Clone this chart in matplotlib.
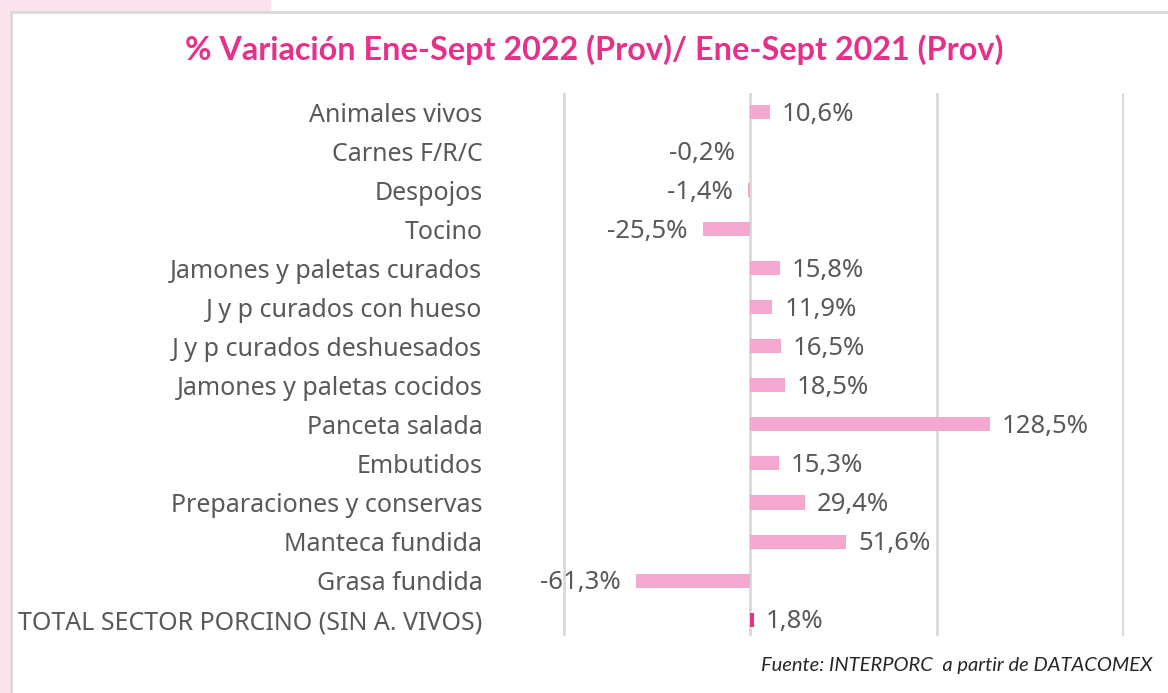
import matplotlib
matplotlib.use('Agg')

import matplotlib.pyplot as plt
from matplotlib.patches import Rectangle

categorias = ['Animales vivos', 'Carnes F/R/C', 'Despojos', 'Tocino',
              'Jamones y paletas curados', 'J y p curados con hueso',
              'J y p curados deshuesados', 'Jamones y paletas cocidos',
              'Panceta salada', 'Embutidos', 'Preparaciones y conservas',
              'Manteca fundida', 'Grasa fundida',
              'TOTAL SECTOR PORCINO (SIN A. VIVOS)']
variacion = [10.6, -0.2, -1.4, -25.5, 15.8, 11.9, 16.5, 18.5, 128.5,
             15.3, 29.4, 51.6, -61.3, 1.8]
ticks_x = [-100, 0, 100, 200]

gris = '#595959'
rosa = '#f4a7cf'
rosa_fuerte = '#e6308a'
plt.rcParams['font.family'] = ['Lato', 'DejaVu Sans']
fuente_ejes = ['Noto Sans', 'DejaVu Sans']

fig = plt.figure(figsize=(11.68, 6.93), dpi=100)
fig.patch.set_facecolor('white')

# fondo rosado y marco del grafico
fig.patches.append(Rectangle((0, 0), 10 / 1168, 1, transform=fig.transFigure,
                             color='#fbe3ee', zorder=-3))
fig.patches.append(Rectangle((0, 1 - 11 / 693), 270 / 1168, 11 / 693,
                             transform=fig.transFigure, color='#fbe3ee', zorder=-3))
fig.patches.append(Rectangle((11 / 1168, -0.05), 1.1, 1 - 12 / 693 + 0.05,
                             transform=fig.transFigure, facecolor='white',
                             edgecolor='#d9d9d9', linewidth=2, zorder=-2))

ax = fig.add_axes([563 / 1168, 1 - 636 / 693, 561 / 1168, 543 / 693])
ax.set_facecolor('none')
ax.set_zorder(2)

y = list(range(len(categorias)))
colores = [rosa] * (len(categorias) - 1) + [rosa_fuerte]
ax.barh(y, variacion, height=0.36, color=colores, zorder=3)

for yi, v in zip(y, variacion):
    txt = ('%.1f%%' % v).replace('.', ',')
    if v >= 0:
        ax.annotate(txt, (v, yi), xytext=(12, -2), textcoords='offset pixels',
                    ha='left', va='center', fontsize=18.5, color=gris,
                    family=fuente_ejes)
    else:
        ax.annotate(txt, (v, yi), xytext=(-15, -2), textcoords='offset pixels',
                    ha='right', va='center', fontsize=18.5, color=gris,
                    family=fuente_ejes)

ax.set_xlim(-100.4, 200.4)
ax.set_ylim(13.42, -0.49)
ax.set_xticks(ticks_x)
ax.set_xticklabels([])
ax.set_yticks(y)
ax.set_yticklabels(categorias, fontsize=18, color=gris, family=fuente_ejes)
ax.tick_params(axis='y', length=0, pad=58)
ax.tick_params(axis='x', length=0)
ax.grid(axis='x', color='#d9d9d9', linewidth=2, zorder=0)
for s in ax.spines.values():
    s.set_visible(False)

fig.text(594 / 1168, 1 - 50 / 693,
         '% Variación Ene-Sept 2022 (Prov)/ Ene-Sept 2021 (Prov)',
         ha='center', va='center', fontsize=23.3, fontweight='bold', color=rosa_fuerte)
fig.text(1152 / 1168, 1 - 665 / 693, 'Fuente: INTERPORC  a partir de DATACOMEX',
         ha='right', va='center', fontsize=14.5, style='italic', color='#262626')

fig.savefig('out.png', dpi=100)
